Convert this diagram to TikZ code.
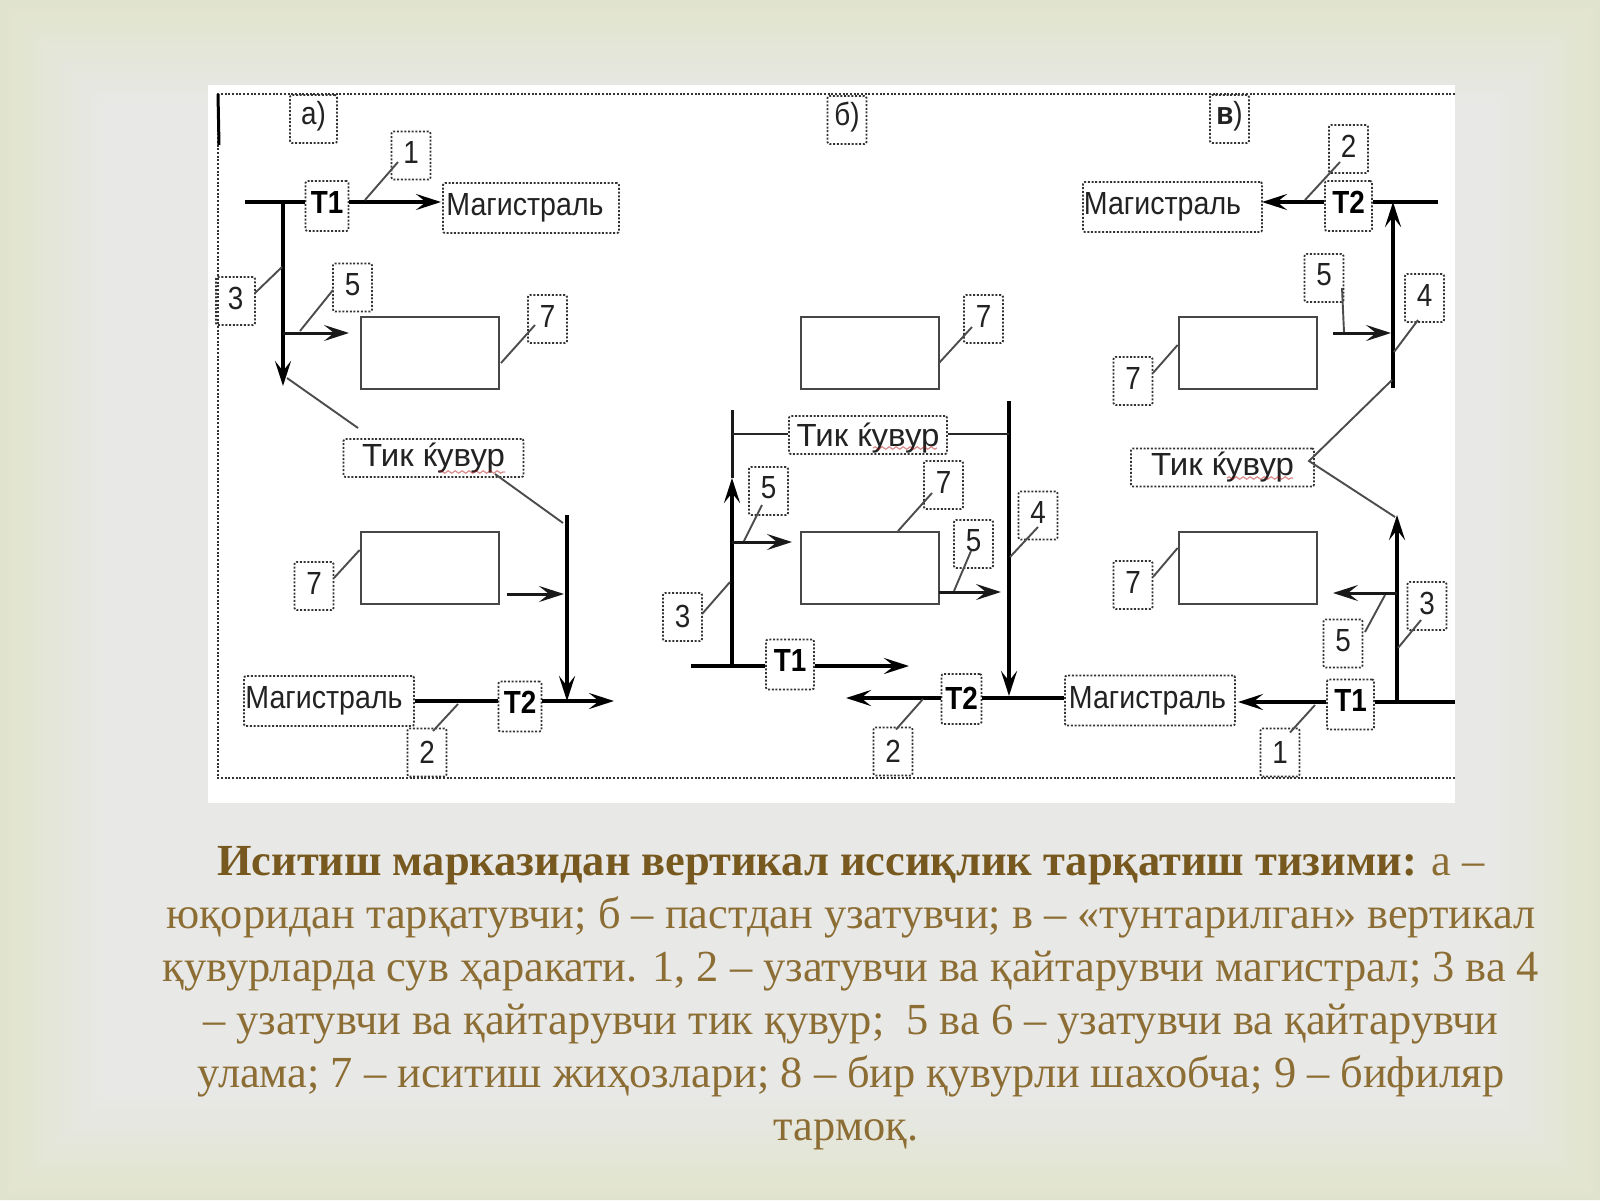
\documentclass[tikz,border=0pt]{standalone}
\usepackage{fontspec}
\setmainfont{Liberation Sans}
\newfontfamily\capfont{Liberation Serif}
\usetikzlibrary{arrows.meta,decorations.pathmorphing}
\definecolor{capb}{HTML}{77591F}
\definecolor{capr}{HTML}{8C6D33}
\definecolor{edgec}{RGB}{225,228,204}
\definecolor{basec}{RGB}{232,232,231}
\definecolor{ink}{HTML}{222222}
\newcommand{\lab}[1]{\raisebox{3pt}[\height][\depth]{\scalebox{.87}[1]{#1}}}
\newcommand{\lowlab}[1]{\raisebox{.5pt}[\height][\depth]{\scalebox{.87}[1]{#1}}}
\newcommand{\tlab}[1]{\raisebox{4pt}[\height][\depth]{\scalebox{.87}[1]{#1}}}
\newcommand{\mlab}[2][12pt]{\scalebox{.893}[1]{#2}\hspace*{#1}}
\newcommand{\tiklab}[1]{\scalebox{1.03}[1]{#1}}
\tikzset{
  dotbox/.style={draw=black!80,line width=1.8pt,dash pattern=on 2pt off 1.7pt,rounded corners=2pt,inner sep=0pt,text=ink,font=\fontsize{32}{32}\selectfont},
  numbox/.style={dotbox,minimum width=39pt,minimum height=48pt},
  tbox/.style={dotbox,minimum width=43pt,minimum height=50pt,font=\fontsize{32}{32}\selectfont\bfseries,text=black},
  magbox/.style={dotbox,minimum width=173pt,minimum height=50pt},
  tikbox/.style={dotbox,minimum width=180pt,minimum height=38pt},
  device/.style={draw=black!72,line width=2.8pt,minimum width=138pt,minimum height=72pt,inner sep=0pt},
  pipe/.style={draw=black,line width=4pt},
  thinpipe/.style={draw=black!90,line width=3pt},
  tip/.style={-{Stealth[length=25pt,width=16pt,inset=10pt]}},
  leader/.style={draw=black!70,line width=1.9pt},
  tikline/.style={draw=black!85,line width=1.9pt},
  frameline/.style={draw=black!80,line width=1.8pt,dash pattern=on 2pt off 1.7pt},
  squiggle/.style={draw=red!70!black,opacity=.45,line width=1.2pt,decorate,decoration={snake,amplitude=1.2pt,segment length=7pt}},
  capline/.style={anchor=base,inner sep=0pt,text=capr,font=\fontsize{44.4}{45}\capfont}
}
\begin{document}
\begin{tikzpicture}[x=1pt,y=-1pt]
\useasboundingbox (0,0) rectangle (1600,1200);
% background
\fill[basec] (0,0) rectangle (1600,1200);
\shade[left color=edgec,right color=basec] (0,0) -- (110,110) -- (110,1090) -- (0,1200) -- cycle;
\shade[left color=basec,right color=edgec] (1600,0) -- (1490,110) -- (1490,1090) -- (1600,1200) -- cycle;
\shade[top color=edgec,bottom color=basec] (0,0) -- (110,110) -- (1490,110) -- (1600,0) -- cycle;
\shade[top color=basec,bottom color=edgec] (0,1200) -- (110,1090) -- (1490,1090) -- (1600,1200) -- cycle;
% white panel
\fill[white] (208,85) rectangle (1455,803);
% frame
\coordinate (fa) at (1455,94);
\coordinate (fb) at (218,94);
\coordinate (fc) at (218,778);
\coordinate (fd) at (1455,778);
\draw[frameline] (fa) -- (fb) -- (fc) -- (fd);
\coordinate (fe) at (219,145);
\draw[draw=black,line width=3pt] (fb) -- (fe);

% ---------- panel a ----------
\node[numbox,minimum width=47pt] (aL) at (313.5,119) {\lab{а)}};
\node[numbox] (a1) at (411,155.5) {\lab{1}};
\node[tbox] (aT1) at (327,206) {\tlab{Т1}};
\node[magbox,minimum width=176pt] (aM1) at (531,208) {\mlab{Магистраль}};
\node[numbox] (a3) at (235.5,301) {\lab{3}};
\node[numbox] (a5) at (352.5,287.5) {\lab{5}};
\node[device] (aR1) at (430,353) {};
\node[numbox] (a7a) at (547.5,319) {\lab{7}};
\node[tikbox] (aTik) at (433.5,458) {\tiklab{Тик ќувур}};
\node[device] (aR2) at (430,568) {};
\node[numbox] (a7b) at (314,586) {\lab{7}};
\node[magbox,minimum width=170pt] (aM2) at (329,701) {\mlab[10pt]{Магистраль}};
\node[tbox] (aT2) at (520,706.5) {\tlab{Т2}};
\node[numbox] (a2) at (427,752.5) {\lowlab{2}};
\coordinate (aS) at (245,202);
\coordinate (aJ) at (283,202);
\coordinate (aE1) at (441,202);
\coordinate (aV) at (283,386);
\coordinate (aB) at (283,333);
\coordinate (aBe) at (349,333);
\coordinate (aV2t) at (567,515);
\coordinate (aV2b) at (567,701);
\coordinate (aIn) at (507,594);
\coordinate (aInE) at (564,594);
\coordinate (aOut) at (614,701);
\draw[pipe] (aS) -- (aS -| aT1.west);
\draw[pipe,tip] (aS -| aT1.east) -- (aE1);
\draw[pipe,tip] (aJ) -- (aV);
\draw[thinpipe,tip] (aB) -- (aBe);
\draw[pipe,tip] (aV2t) -- (aV2b);
\draw[thinpipe,tip] (aIn) -- (aInE);
\draw[pipe] (aV2b -| aM2.east) -- (aV2b -| aT2.west);
\draw[pipe,tip] (aV2b -| aT2.east) -- (aOut);
\draw[leader] (a1) ++(-13,6.5) -- (365,200) coordinate (la1);
\draw[leader] (a3) ++(19.5,-8) -- (282,267) coordinate (la3);
\draw[leader] (a5) ++(-19.5,2.5) -- (300,331) coordinate (la5);
\draw[leader] (a7a) ++(-12.5,6) -- (501,363) coordinate (la7);
\coordinate (aTa) at (358,428);
\coordinate (aTb) at (287,378);
\draw[leader] (aTa) -- (aTb);
\coordinate (aTc) at (495,474);
\coordinate (aTd) at (563,523);
\draw[leader] (aTc) -- (aTd);
\draw[leader] (a7b) ++(20,-8) -- (aR2.west |- 0,550) coordinate (la7b);
\draw[leader] (a2) ++(6,-21.5) -- (458,704) coordinate (la2);
\draw[squiggle] (439,472) -- (505,472);

% ---------- panel b ----------
\node[numbox] (bL) at (847,120) {\lab{б)}};
\node[device] (bR1) at (870,353) {};
\node[numbox] (b7a) at (983.5,319) {\lab{7}};
\node[tikbox,minimum width=158pt,text depth=2pt] (bTik) at (868,435) {\raisebox{-1pt}{\tiklab{Тик ќувур}}};
\node[numbox] (b5a) at (768.5,491) {\lab{5}};
\node[numbox] (b7b) at (943.5,485) {\lab{7}};
\node[device] (bR2) at (870,568) {};
\node[numbox] (b5b) at (973.5,544) {\lab{5}};
\node[numbox] (b4) at (1038,515.5) {\lab{4}};
\node[numbox] (b3) at (682.5,617) {\lowlab{3}};
\node[tbox,minimum width=48pt] (bT1) at (790,664.5) {\tlab{Т1}};
\node[tbox,minimum width=40pt] (bT2) at (961.5,699) {\lowlab{Т2}};
\node[magbox,minimum width=170pt] (bM) at (1150,700.5) {\mlab[5pt]{Магистраль}};
\node[numbox] (b2) at (893,751.5) {\lowlab{2}};
\coordinate (bLt) at (732,410);
\coordinate (bLa) at (732,478);
\coordinate (bLb) at (732,666);
\coordinate (bLs) at (691,666);
\coordinate (bBr) at (732,542);
\coordinate (bBe) at (792,542);
\coordinate (bRt) at (1009,401);
\coordinate (bRb) at (1009,696);
\coordinate (bJ) at (1009,698);
\coordinate (bT1e) at (909,666);
\coordinate (bT2e) at (846,698);
\coordinate (bTl) at (732,434);
\coordinate (bTr) at (1009,434);
\coordinate (bOs) at (939,592);
\coordinate (bOe) at (1001,592);
\draw[thinpipe] (bLt) -- (bLa);
\draw[pipe,tip] (bLb) -- (bLa);
\draw[pipe] (bLs) -- (bLs -| bT1.west);
\draw[pipe,tip] (bLs -| bT1.east) -- (bT1e);
\draw[thinpipe,tip] (bBr) -- (bBe);
\draw[pipe,tip] (bRt) -- (bRb);
\draw[pipe] (bJ -| bM.west) -- (bJ -| bT2.east);
\draw[pipe,tip] (bJ -| bT2.west) -- (bT2e);
\draw[thinpipe,tip] (bOs) -- (bOe);
\draw[tikline] (bTl) -- (bTl -| bTik.west);
\draw[tikline] (bTr -| bTik.east) -- (bTr);
\draw[leader] (b7a) ++(-11.5,8) -- (939,363) coordinate (lb7a);
\draw[leader] (b7b) ++(-11.5,8) -- (898,531) coordinate (lb7b);
\draw[leader] (b5a) ++(-6.5,14) -- (744,541) coordinate (lb5a);
\draw[leader] (b5b) ++(-2.5,7) -- (954,591) coordinate (lb5b);
\draw[leader] (b4) ++(0,11.5) -- (1010,557) coordinate (lb4);
\draw[leader] (b3) ++(19.5,-3) -- (730,582) coordinate (lb3);
\draw[leader] (b2) ++(3,-22) -- (923,699) coordinate (lb2);
\draw[squiggle] (873,448) -- (937,448);

% ---------- panel c ----------
\node[numbox] (cL) at (1229.5,119) {\lab{\textbf{в})}};
\node[numbox] (c2) at (1348.5,149) {\lab{2}};
\node[tbox,minimum width=47pt] (cT2) at (1348.5,206) {\tlab{Т2}};
\node[magbox,minimum width=179pt] (cM1) at (1172.5,207) {\mlab[20pt]{Магистраль}};
\node[numbox] (c5) at (1324,278) {\lab{5}};
\node[numbox] (c4) at (1424.5,298) {\lab{4}};
\node[device] (cR1) at (1248,353) {};
\node[numbox] (c7a) at (1133,381) {\lab{7}};
\node[tikbox,minimum width=183pt] (cTik) at (1222.5,467.5) {\tiklab{Тик ќувур}};
\node[device] (cR2) at (1248,568) {};
\node[numbox] (c7b) at (1133,585) {\lab{7}};
\node[numbox] (c3) at (1427,606) {\lab{3}};
\node[numbox] (c5b) at (1343,643.5) {\lab{5}};
\node[tbox,minimum width=47pt] (cT1) at (1350.5,704.5) {\tlab{Т1}};
\node[numbox] (c1) at (1280,752.5) {\lowlab{1}};
\coordinate (cJ) at (1393,202);
\coordinate (cEr) at (1438,202);
\coordinate (cVb) at (1393,388);
\coordinate (cBs) at (1333,333);
\coordinate (cBe) at (1391,333);
\coordinate (cVb2) at (1397,702);
\coordinate (cVt2) at (1397,515);
\coordinate (cBr) at (1397,593);
\coordinate (cBe2) at (1333,593);
\coordinate (cEr2) at (1455,702);
\coordinate (cA2) at (1262,202);
\coordinate (cA1) at (1238,702);
\draw[pipe,tip] (cJ -| cT2.west) -- (cA2);
\draw[pipe] (cJ -| cT2.east) -- (cEr);
\draw[pipe,tip] (cVb) -- (cJ);
\draw[thinpipe,tip] (cBs) -- (cBe);
\draw[pipe,tip] (cVb2) -- (cVt2);
\draw[thinpipe,tip] (cBr) -- (cBe2);
\draw[pipe] (cEr2 -| cT1.east) -- (cEr2);
\draw[pipe,tip] (cEr2 -| cT1.west) -- (cA1);
\draw[leader] (c2) ++(-8.5,13) -- (1305,200) coordinate (lc2);
\draw[leader] (c5) ++(18,10) -- (1344,332) coordinate (lc5);
\draw[leader] (c4) ++(-6.5,22) -- (1394,352) coordinate (lc4);
\draw[leader] (c7a) ++(20,-8) -- (cR1.west |- 0,345) coordinate (lc7a);
\draw[leader] (c7b) ++(20,-8) -- (cR2.west |- 0,548) coordinate (lc7b);
\coordinate (cTs) at (1309,461);
\coordinate (cTa) at (1392,380);
\coordinate (cTb) at (1395,517);
\draw[leader] (cTa) -- (cTs) -- (cTb);
\draw[leader] (c5b) ++(22,-11.5) -- (1385,595) coordinate (lc5b);
\draw[leader] (c3) ++(-6,14) -- (1398,648) coordinate (lc3);
\draw[leader] (c1) ++(10,-20) -- (1315,705) coordinate (lc1);
\draw[squiggle] (1227,478) -- (1293,478);

% caption
\node[capline] (l1) at (851,875) {\textcolor{capb}{\bfseries Иситиш марказидан вертикал иссиқлик тарқатиш тизими:} а –};
\node[capline] (l2) at (851,928) {юқоридан тарқатувчи; б – пастдан узатувчи; в – «тунтарилган» вертикал};
\node[capline] (l3) at (851,981) {қувурларда сув ҳаракати. 1, 2 – узатувчи ва қайтарувчи магистрал; 3 ва 4};
\node[capline] (l4) at (851,1034) {– узатувчи ва қайтарувчи тик қувур;~ 5 ва 6 – узатувчи ва қайтарувчи};
\node[capline] (l5) at (851,1087) {улама; 7 – иситиш жиҳозлари; 8 – бир қувурли шахобча; 9 – бифиляр};
\node[capline] (l6) at (846,1140) {тармоқ.};
\end{tikzpicture}
\end{document}
